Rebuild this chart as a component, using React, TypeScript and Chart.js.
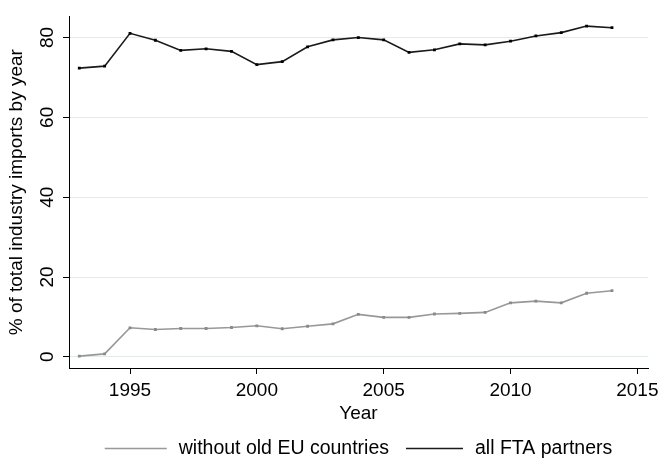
import React, { useEffect, useRef } from "react";
import { Chart, registerables } from "chart.js";

Chart.register(...registerables);

const years = [1993, 1994, 1995, 1996, 1997, 1998, 1999, 2000, 2001, 2002, 2003, 2004, 2005, 2006, 2007, 2008, 2009, 2010, 2011, 2012, 2013, 2014];
const withoutOldEU = [0.17, 0.74, 7.27, 6.85, 7.1, 7.1, 7.35, 7.77, 7.03, 7.67, 8.26, 10.64, 9.89, 9.89, 10.74, 10.88, 11.13, 13.53, 13.95, 13.53, 15.93, 16.57];
const allFTA = [72.33, 72.83, 81.06, 79.33, 76.78, 77.18, 76.54, 73.22, 73.96, 77.68, 79.41, 80.0, 79.41, 76.29, 76.93, 78.42, 78.17, 79.09, 80.4, 81.24, 82.87, 82.47];
const xTicks = [1995, 2000, 2005, 2010, 2015];
const yTicks = [0, 20, 40, 60, 80];
const seriesLabels = ["without old EU countries", "all FTA partners"];
const xTitle = "Year";
const yTitle = "% of total industry imports by year";

const FONT = '"Liberation Sans", Arial, Helvetica, sans-serif';

const legendPlugin = {
  id: "stataLegend",
  afterDraw(chart: any) {
    const ctx = chart.ctx;
    const dsets = chart.data.datasets;
    const fontSize = 19.5;
    ctx.save();
    ctx.font = `${fontSize}px ${FONT}`;
    const lineLens = [62, 57];
    const gapAfterLine = 12;
    const gapBetween = 17;
    let total = 0;
    dsets.forEach((d: any, i: number) => {
      total += lineLens[i] + gapAfterLine + ctx.measureText(d.label).width;
      if (i < dsets.length - 1) total += gapBetween;
    });
    const area = chart.chartArea;
    let x = (area.left + area.right) / 2 - total / 2;
    const y = 449;
    dsets.forEach((d: any, i: number) => {
      ctx.strokeStyle = d.borderColor;
      ctx.lineWidth = 1.6;
      ctx.beginPath();
      ctx.moveTo(x, y - 0.5);
      ctx.lineTo(x + lineLens[i], y - 0.5);
      ctx.stroke();
      x += lineLens[i] + gapAfterLine;
      ctx.fillStyle = "#000";
      ctx.textBaseline = "middle";
      ctx.textAlign = "left";
      ctx.fillText(d.label, x, y);
      x += ctx.measureText(d.label).width + gapBetween;
    });
    ctx.restore();
  },
};

export default function App() {
  const ref = useRef<HTMLCanvasElement | null>(null);
  useEffect(() => {
    if (!ref.current) return;
    Chart.defaults.font.family = FONT;
    const chart = new Chart(ref.current, {
      type: "line",
      data: {
        datasets: [
          {
            label: seriesLabels[0],
            data: years.map((yr, i) => ({ x: yr, y: withoutOldEU[i] })),
            borderColor: "#989898",
            backgroundColor: "#8a8a8a",
            pointBackgroundColor: "#8a8a8a",
            borderWidth: 1.6,
            pointStyle: "rect",
            pointRadius: 2,
            pointBorderWidth: 0,
            tension: 0,
          },
          {
            label: seriesLabels[1],
            data: years.map((yr, i) => ({ x: yr, y: allFTA[i] })),
            borderColor: "#1a1a1a",
            backgroundColor: "#000",
            pointBackgroundColor: "#000",
            borderWidth: 1.6,
            pointStyle: "rect",
            pointRadius: 2,
            pointBorderWidth: 0,
            tension: 0,
          },
        ],
      },
      options: {
        responsive: false,
        animation: false,
        layout: { padding: { left: 0, right: 16, top: 12, bottom: 38 } },
        plugins: { legend: { display: false }, tooltip: { enabled: false } },
        scales: {
          x: {
            type: "linear",
            min: 1992.595,
            max: 2015.42,
            afterBuildTicks: (s: any) => {
              s.ticks = xTicks.map((v) => ({ value: v }));
            },
            afterFit: (s: any) => {
              s.height = 57;
            },
            grid: { drawOnChartArea: false, drawTicks: true, tickLength: 6, tickColor: "#000", tickWidth: 1 },
            border: { display: true, color: "#000", width: 1 },
            ticks: {
              color: "#000",
              font: { size: 19 },
              padding: 5,
              maxRotation: 0,
              minRotation: 0,
              callback: (v: any) => String(v),
            },
            title: {
              display: true,
              text: xTitle,
              color: "#000",
              font: { size: 19 },
              padding: { top: 0, bottom: 0 },
            },
          },
          y: {
            type: "linear",
            min: -2.8,
            max: 85.3,
            afterBuildTicks: (s: any) => {
              s.ticks = yTicks.map((v) => ({ value: v }));
            },
            afterFit: (s: any) => {
              s.width = 69;
            },
            grid: { color: "#e2ebec", lineWidth: 1, drawTicks: true, tickLength: 6, tickColor: "#000", tickWidth: 1 },
            border: { display: true, color: "#000", width: 1 },
            ticks: {
              color: "#000",
              font: { size: 19 },
              padding: 5,
              minRotation: 90,
              maxRotation: 90,
              crossAlign: "center",
              callback: (v: any) => String(v),
            },
            title: {
              display: true,
              text: yTitle,
              color: "#000",
              font: { size: 19 },
              padding: { top: 5.5, bottom: 0 },
            },
          },
        },
      },
      plugins: [legendPlugin],
    } as any);
    return () => chart.destroy();
  }, []);
  return (
    <div style={{ position: "absolute", left: 0, top: 0, width: 664, height: 463, background: "#fff" }}>
      <canvas ref={ref} width={664} height={463} />
    </div>
  );
}
